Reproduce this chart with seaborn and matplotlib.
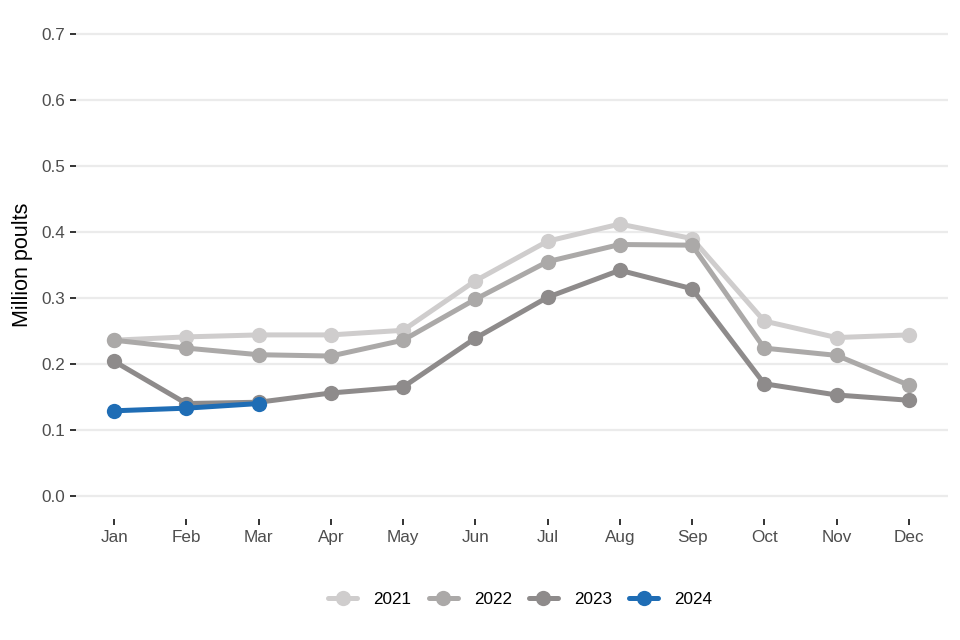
import pandas as pd
import seaborn as sns
import matplotlib.pyplot as plt
from matplotlib.lines import Line2D

# -------------------------
# Data (million poults placed per month)
# -------------------------
months = ["Jan", "Feb", "Mar", "Apr", "May", "Jun",
          "Jul", "Aug", "Sep", "Oct", "Nov", "Dec"]

y2021 = [0.236, 0.241, 0.244, 0.244, 0.251, 0.326,
         0.386, 0.412, 0.390, 0.265, 0.240, 0.244]
y2022 = [0.236, 0.224, 0.214, 0.212, 0.236, 0.298,
         0.355, 0.381, 0.380, 0.224, 0.213, 0.168]
y2023 = [0.204, 0.140, 0.142, 0.156, 0.165, 0.239,
         0.301, 0.342, 0.314, 0.170, 0.153, 0.145]
y2024 = [0.129, 0.133, 0.140]

years = ["2021", "2022", "2023", "2024"]
colours = {"2021": "#CFCDCD", "2022": "#ABA9A8",
           "2023": "#8E8B8B", "2024": "#1F6DB5"}

series = {"2021": y2021, "2022": y2022, "2023": y2023, "2024": y2024}
rows = []
for yr, vals in series.items():
    for i, v in enumerate(vals):
        rows.append({"month": i, "year": yr, "value": v})
df = pd.DataFrame(rows)

# -------------------------
# Styling
# -------------------------
sns.set_style("white")
plt.rcParams["font.family"] = ["Liberation Sans", "DejaVu Sans"]

fig = plt.figure(figsize=(9.6, 6.4), dpi=100)
ax = fig.add_axes([0.079, 0.189, 0.909, 0.794])

LW = 3.6
MS = 11

sns.lineplot(
    data=df, x="month", y="value", hue="year", hue_order=years,
    palette=colours, marker="o", markersize=MS, markeredgewidth=0,
    linewidth=LW, legend=False, ax=ax,
)

# -------------------------
# Axes
# -------------------------
ax.set_xlim(-0.53, 11.55)
ax.set_ylim(-0.035, 0.735)
ax.set_xticks(range(12))
ax.set_xticklabels(months)
ax.set_yticks([0.0, 0.1, 0.2, 0.3, 0.4, 0.5, 0.6, 0.7])
ax.set_yticklabels([f"{v:.1f}" for v in ax.get_yticks()])
ax.set_xlabel("")
ax.set_ylabel("Million poults", fontsize=15.5, color="black", labelpad=6)

ax.grid(axis="y", color="#EBEBEB", linewidth=1.6)
ax.grid(axis="x", visible=False)
ax.set_axisbelow(True)
for s in ax.spines.values():
    s.set_visible(False)
ax.tick_params(axis="both", which="major", bottom=True, left=True,
               length=4, width=1.4, color="#333333",
               labelcolor="#4D4D4D", labelsize=12.3)
ax.tick_params(axis="y", pad=3.5)
ax.tick_params(axis="x", pad=4)

# -------------------------
# Legend below the plot
# -------------------------
handles = [Line2D([0], [0], color=colours[y], lw=LW, marker="o",
                  markersize=MS, markeredgewidth=0) for y in years]
fig.legend(handles, years, loc="center", bbox_to_anchor=(0.542, 0.063),
           ncol=4, frameon=False, fontsize=12.3, handlelength=1.7,
           columnspacing=1.0, handletextpad=0.95, labelcolor="black")

plt.savefig("out.png", dpi=100)
plt.close()
